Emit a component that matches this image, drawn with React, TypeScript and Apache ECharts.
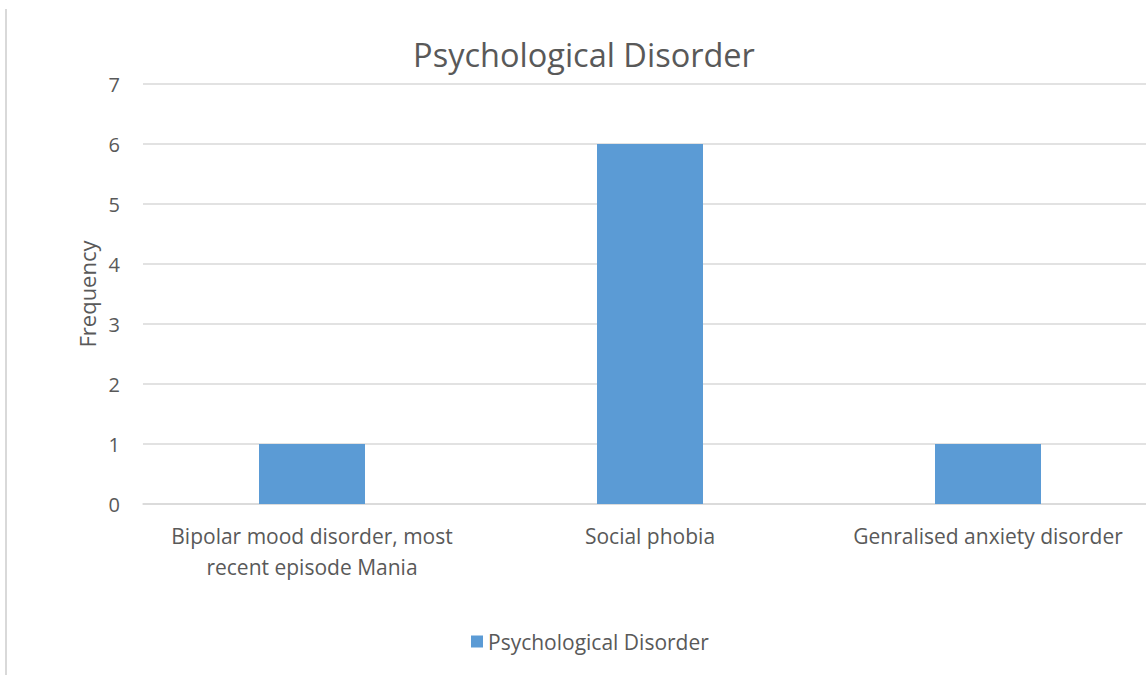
import React, { useEffect, useRef } from "react";
import * as echarts from "echarts";

const categories = [
  "Bipolar mood disorder, most\nrecent episode Mania",
  "Social phobia",
  "Genralised anxiety disorder",
];
const frequencies = [1, 6, 1];
const seriesName = "Psychological Disorder";
const titleText = "Psychological Disorder";
const yAxisName = "Frequency";

const FONT = "'Open Sans', 'DejaVu Sans', sans-serif";
const TEXT = "#595959";

export default function App() {
  const ref = useRef<HTMLDivElement>(null);
  useEffect(() => {
    if (!ref.current) return;
    const chart = echarts.init(ref.current, null, { renderer: "svg" });
    chart.setOption({
      animation: false,
      backgroundColor: "#ffffff",
      textStyle: { fontFamily: FONT },
      title: {
        text: titleText,
        left: 579,
        textAlign: "center",
        top: 33,
        textStyle: { fontFamily: FONT, fontSize: 32.5, fontWeight: "normal", color: TEXT },
      },
      legend: {
        data: [seriesName],
        bottom: 18,
        left: 466,
        itemWidth: 12,
        itemHeight: 12,
        icon: "rect",
        itemGap: 8,
        textStyle: { fontFamily: FONT, fontSize: 21, color: TEXT },
      },
      grid: { left: 143, top: 84, width: 1014, height: 420, containLabel: false },
      xAxis: {
        type: "category",
        data: categories,
        axisLine: { show: true, lineStyle: { color: "#d9d9d9", width: 1.5 } },
        axisTick: { show: false },
        axisLabel: {
          color: TEXT,
          fontSize: 21,
          fontFamily: FONT,
          lineHeight: 31,
          margin: 16,
          interval: 0,
        },
      },
      yAxis: {
        type: "value",
        min: 0,
        max: 7,
        interval: 1,
        name: yAxisName,
        nameLocation: "middle",
        nameGap: 44,
        nameTextStyle: { color: TEXT, fontSize: 22, fontFamily: FONT },
        axisLine: { show: false },
        axisTick: { show: false },
        axisLabel: { color: TEXT, fontSize: 20, fontFamily: FONT, margin: 23 },
        splitLine: { lineStyle: { color: "#d9d9d9", width: 1.5 } },
      },
      series: [
        {
          name: seriesName,
          type: "bar",
          data: frequencies,
          barWidth: 106,
          itemStyle: { color: "#5b9bd5" },
        },
      ],
      graphic: [
        {
          type: "line",
          shape: { x1: 6, y1: 9, x2: 6, y2: 675 },
          style: { stroke: "#d9d9d9", lineWidth: 2 },
        },
      ],
    });
    return () => chart.dispose();
  }, []);
  return (
    <div
      style={{
        position: "fixed",
        left: 0,
        top: 0,
        width: 1146,
        height: 675,
        overflow: "hidden",
        background: "#ffffff",
      }}
    >
      <div ref={ref} style={{ width: 1170, height: 675 }} />
    </div>
  );
}
